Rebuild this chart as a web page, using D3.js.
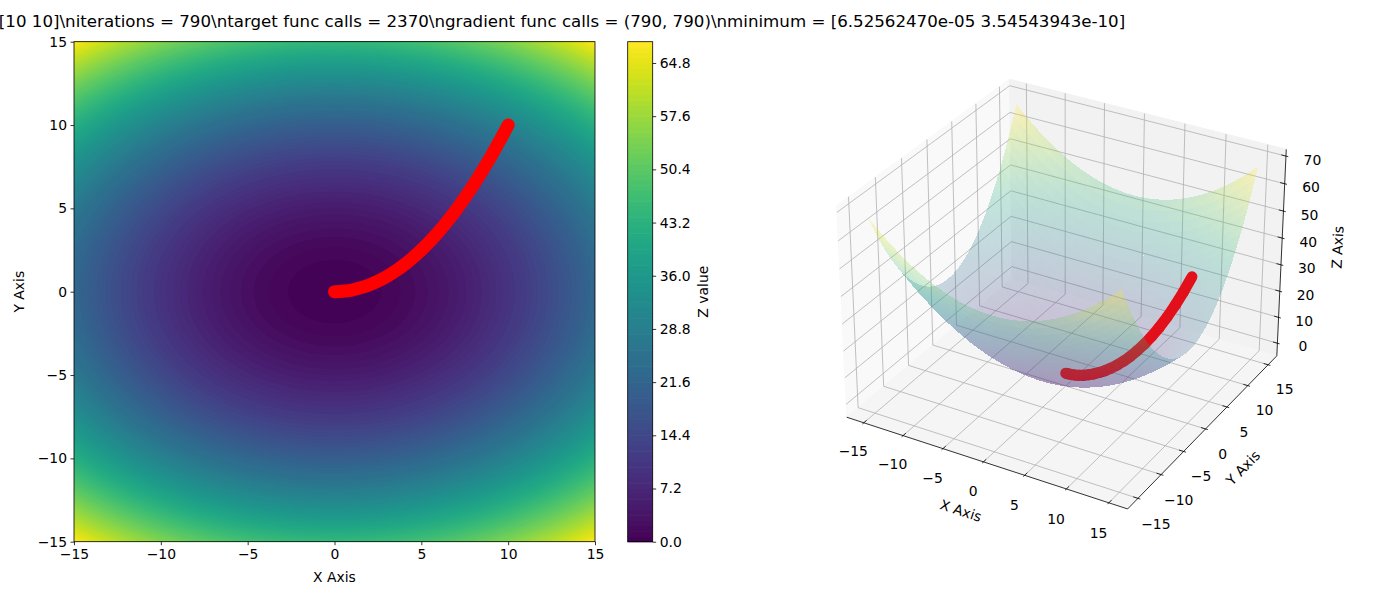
<!DOCTYPE html>
<html><head><meta charset="utf-8">
<script src="https://cdn.jsdelivr.net/npm/d3@7"></script>
<style>
body{margin:0;background:#fff}
svg text{font-family:"DejaVu Sans",sans-serif;font-size:13.9px;fill:#000}
</style>
</head><body>
<svg id="c" width="1400" height="600"></svg>
<script>
// ---------------- data ----------------
const titleText = "[10 10]\\niterations = 790\\ntarget func calls = 2370\\ngradient func calls = (790, 790)\\nminimum = [6.52562470e-05 3.54543943e-10]";
const axisTicks = [-15, -10, -5, 0, 5, 10, 15];
const zTicks = [0, 10, 20, 30, 40, 50, 60, 70];
const cbarTicks = [0, 7.2, 14.4, 21.6, 28.8, 36.0, 43.2, 50.4, 57.6, 64.8];
const levelStep = 0.72, levelCount = 95;           // contour levels 0 .. 67.68
const gridRange = [-15, 15];
const coefX = 0.1, coefY = 0.2;                    // target: z = 0.1 x^2 + 0.2 y^2
// gradient-descent path
const pathX = [10, 9.5, 9, 8.5, 8, 7.5, 7, 6.5, 6, 5.5, 5, 4.5, 4, 3.5, 3, 2.5, 2, 1.5, 1, 0.6, 0.3, 0.1, 0];
const pathY = [10, 9.03, 8.1, 7.23, 6.4, 5.63, 4.9, 4.23, 3.6, 3.03, 2.5, 2.03, 1.6, 1.23, 0.9, 0.63, 0.4, 0.23, 0.1, 0.04, 0.01, 0, 0];
const pathZ = [30, 25.32, 21.22, 17.67, 14.59, 11.95, 9.7, 7.8, 6.19, 4.86, 3.75, 2.85, 2.11, 1.53, 1.06, 0.7, 0.43, 0.24, 0.1, 0.04, 0.01, 0, 0];

const target = (x, y) => coefX * x * x + coefY * y * y;
const levels = d3.range(levelCount).map(i => +(i * levelStep).toFixed(2));
const fmtTick = d => (d < 0 ? "\u2212" : "") + Math.abs(d);

const svg = d3.select("#c");

// ---------------- title ----------------
svg.append("text").attr("x", 562).attr("y", 27).attr("text-anchor", "middle")
  .style("font-size", "16.67px").text(titleText);

// ---------------- left: contour plot ----------------
const L = {x0: 74, x1: 595, y0: 41.7, y1: 541.7};
const xs = d3.scaleLinear().domain(gridRange).range([L.x0, L.x1]);
const ys = d3.scaleLinear().domain(gridRange).range([L.y1, L.y0]);

const n = 241;
const gstep = (gridRange[1] - gridRange[0]) / (n - 1);
const vals = new Float64Array(n * n);
for (let j = 0; j < n; j++) for (let i = 0; i < n; i++)
  vals[j * n + i] = target(gridRange[0] + i * gstep, gridRange[0] + j * gstep);

const lvMin = levels[0], lvMax = levels[levels.length - 1];
const bandColor = k => d3.interpolateViridis(((levels[k] + levels[k + 1]) / 2 - lvMin) / (lvMax - lvMin));
const contours = d3.contours().size([n, n]).thresholds(levels.slice(0, -1))(vals);
const gp = d3.geoPath(d3.geoTransform({
  point(x, y) { this.stream.point(xs(gridRange[0] + (x - 0.5) * gstep), ys(gridRange[0] + (y - 0.5) * gstep)); }
}));
svg.append("clipPath").attr("id", "lc").append("rect")
  .attr("x", L.x0).attr("y", L.y0).attr("width", L.x1 - L.x0).attr("height", L.y1 - L.y0);
const gL = svg.append("g").attr("clip-path", "url(#lc)");
contours.forEach((c, k) => gL.append("path").attr("d", gp(c)).attr("fill", bandColor(k)));

const line2 = d3.line().x((d, i) => xs(pathX[i])).y((d, i) => ys(pathY[i])).curve(d3.curveCatmullRom);
svg.append("path").datum(pathX).attr("d", line2).attr("fill", "none").attr("stroke", "#ff0000")
  .attr("stroke-width", 13).attr("stroke-linecap", "round").attr("stroke-linejoin", "round");

function styleAxis(g) {
  g.attr("font-family", null).attr("font-size", null);
  g.select(".domain").remove();
  g.selectAll(".tick line").attr("stroke", "#000").attr("stroke-width", 0.8);
}
svg.append("g").attr("transform", `translate(0,${L.y1})`)
  .call(d3.axisBottom(xs).tickValues(axisTicks).tickFormat(fmtTick).tickSize(3.5).tickPadding(3.5)).call(styleAxis);
svg.append("g").attr("transform", `translate(${L.x0},0)`)
  .call(d3.axisLeft(ys).tickValues(axisTicks).tickFormat(fmtTick).tickSize(3.5).tickPadding(3.5)).call(styleAxis);
svg.append("rect").attr("x", L.x0).attr("y", L.y0).attr("width", L.x1 - L.x0).attr("height", L.y1 - L.y0)
  .attr("fill", "none").attr("stroke", "#000").attr("stroke-width", 0.8);
svg.append("text").attr("x", (L.x0 + L.x1) / 2).attr("y", 582).attr("text-anchor", "middle").text("X Axis");
svg.append("text").attr("transform", `translate(24,${(L.y0 + L.y1) / 2}) rotate(-90)`).attr("text-anchor", "middle").text("Y Axis");

// ---------------- colorbar ----------------
const C = {x0: 627.7, x1: 652.7, y0: 41.7, y1: 541.7};
const cs = d3.scaleLinear().domain([lvMin, lvMax]).range([C.y1, C.y0]);
d3.range(levels.length - 1).forEach(k => {
  svg.append("rect").attr("x", C.x0).attr("width", C.x1 - C.x0)
    .attr("y", cs(levels[k + 1])).attr("height", cs(levels[k]) - cs(levels[k + 1]) + 0.6)
    .attr("fill", bandColor(k));
});
svg.append("rect").attr("x", C.x0).attr("y", C.y0).attr("width", C.x1 - C.x0).attr("height", C.y1 - C.y0)
  .attr("fill", "none").attr("stroke", "#000").attr("stroke-width", 0.8);
svg.append("g").attr("transform", `translate(${C.x1},0)`)
  .call(d3.axisRight(cs).tickValues(cbarTicks).tickFormat(d3.format(".1f")).tickSize(3.5).tickPadding(3.5)).call(styleAxis);
svg.append("text").attr("transform", `translate(708,${(C.y0 + C.y1) / 2}) rotate(-90)`).attr("text-anchor", "middle").text("Z value");

// ---------------- right: 3D surface ----------------
const S3 = {x0: 809, y0: 40.5, size: 500};
const viewLo = -0.095, viewHi = 0.09;
const PS = S3.size / (viewHi - viewLo);
const boxA = [8 / 7, 8 / 7, 6 / 7];
const elev = 30 * Math.PI / 180, azim = -60 * Math.PI / 180, dist = 10;
const dot = (a, b) => a[0] * b[0] + a[1] * b[1] + a[2] * b[2];
const cross = (a, b) => [a[1] * b[2] - a[2] * b[1], a[2] * b[0] - a[0] * b[2], a[0] * b[1] - a[1] * b[0]];
const unit = a => { const l = Math.hypot(a[0], a[1], a[2]); return a.map(c => c / l); };
const Rc = boxA.map(b => b / 2);
const psv = [Math.cos(elev) * Math.cos(azim), Math.cos(elev) * Math.sin(azim), Math.sin(elev)];
const eye = Rc.map((r, i) => r + dist * psv[i]);
const W = unit(psv), U = unit(cross([0, 0, 1], W)), V = cross(W, U);
function projN(nx, ny, nz) {
  const p = [nx * boxA[0] - eye[0], ny * boxA[1] - eye[1], nz * boxA[2] - eye[2]];
  const vx = dot(U, p), vy = dot(V, p), vz = dot(W, p);
  return [S3.x0 + (vx / -vz - viewLo) * PS, S3.y0 + (viewHi - vy / -vz) * PS, vz];
}

// surface grid (plot_surface, ~50x50 faces)
const M = 50;
const sg = d3.range(M + 1).map(i => gridRange[0] + (gridRange[1] - gridRange[0]) * i / M);
const zMaxS = d3.max(sg, x => d3.max(sg, y => target(x, y)));
const zMinS = d3.min(sg, x => d3.min(sg, y => target(x, y)));
const mx = 0.05 * (gridRange[1] - gridRange[0]), mz = 0.05 * (zMaxS - zMinS);
const nX = d3.scaleLinear().domain([gridRange[0] - mx, gridRange[1] + mx]).range([0, 1]);
const nY = nX.copy();
const nZ = d3.scaleLinear().domain([zMinS - mz, zMaxS + mz]).range([0, 1]);
const proj = (x, y, z) => projN(nX(x), nY(y), nZ(z));
const lo = -1 / 48, hi = 49 / 48, dl = 1 / 12;

const g3 = svg.append("g");
const poly = pts => "M" + pts.map(p => p[0].toFixed(2) + "," + p[1].toFixed(2)).join("L") + "Z";
const pl = pts => "M" + pts.map(p => p[0].toFixed(2) + "," + p[1].toFixed(2)).join("L");

// panes
[[[lo, lo, lo], [lo, hi, lo], [lo, hi, hi], [lo, lo, hi], "#f9f9f9"],
 [[lo, hi, lo], [hi, hi, lo], [hi, hi, hi], [lo, hi, hi], "#f2f2f2"],
 [[lo, lo, lo], [hi, lo, lo], [hi, hi, lo], [lo, hi, lo], "#f5f5f5"]].forEach(q => {
  g3.append("path").attr("d", poly(q.slice(0, 4).map(c => projN(...c)))).attr("fill", q[4]).attr("stroke", q[4]);
});

// grid lines
const gridStyle = s => s.attr("fill", "none").attr("stroke", "#b0b0b0").attr("stroke-width", 0.8);
axisTicks.forEach(t => {
  const a = nX(t);
  g3.append("path").attr("d", pl([projN(a, lo, lo), projN(a, hi, lo), projN(a, hi, hi)])).call(gridStyle);
  const b = nY(t);
  g3.append("path").attr("d", pl([projN(hi, b, lo), projN(lo, b, lo), projN(lo, b, hi)])).call(gridStyle);
});
zTicks.forEach(t => {
  const c = nZ(t);
  g3.append("path").attr("d", pl([projN(lo, lo, c), projN(lo, hi, c), projN(hi, hi, c)])).call(gridStyle);
});

// axis lines
const axStyle = s => s.attr("fill", "none").attr("stroke", "#000").attr("stroke-width", 0.8);
const xA = [projN(lo, lo, lo), projN(hi, lo, lo)];
const yA = [projN(hi, lo, lo), projN(hi, hi, lo)];
const zA = [projN(hi, hi, lo), projN(hi, hi, hi)];
[xA, yA, zA].forEach(a => g3.append("path").attr("d", pl(a)).call(axStyle));

// ticks and tick labels
const fT = 1.0 * dl * 0.767, labShift = 7;
const tickLab = (p, txt) => g3.append("text").attr("x", p[0]).attr("y", p[1] + labShift)
  .attr("dy", "0.35em").attr("text-anchor", "middle").text(txt);
axisTicks.forEach(t => {
  const a = nX(t);
  g3.append("path").attr("d", pl([projN(a, lo - 0.1 * dl, lo), projN(a, lo + 0.2 * dl, lo)])).call(axStyle);
  tickLab(projN(a, lo - fT, lo - fT), fmtTick(t));
  const b = nY(t);
  g3.append("path").attr("d", pl([projN(hi + 0.1 * dl, b, lo), projN(hi - 0.2 * dl, b, lo)])).call(axStyle);
  tickLab(projN(hi + fT, b, lo - fT), fmtTick(t));
});
zTicks.forEach(t => {
  const c = nZ(t);
  g3.append("path").attr("d", pl([projN(hi + 0.1 * dl, hi, c), projN(hi - 0.2 * dl, hi, c)])).call(axStyle);
  tickLab(projN(hi + fT, hi + fT, c), fmtTick(t));
});

// axis labels
const fL = 1.667 * dl;
const ang = a => { let d = Math.atan2(a[1][1] - a[0][1], a[1][0] - a[0][0]) * 180 / Math.PI;
  d = -d; d = ((d + 180) % 180 + 180) % 180; if (d > 90) d -= 180; return -d; };
[[projN(0.5, lo - fL, lo - fL), ang(xA), "X Axis"],
 [projN(hi + fL, 0.5, lo - fL), ang(yA), "Y Axis"],
 [projN(hi + fL, hi + fL, 0.5), ang(zA), "Z Axis"]].forEach(q => {
  g3.append("text").attr("transform", `translate(${q[0][0]},${q[0][1]}) rotate(${q[1]})`)
    .attr("dy", "0.35em").attr("text-anchor", "middle").text(q[2]);
});

// surface faces + path segments, painter-sorted
const items = [];
const faces = [];
for (let i = 0; i < M; i++) for (let j = 0; j < M; j++) {
  const cs4 = [[sg[i], sg[j]], [sg[i + 1], sg[j]], [sg[i + 1], sg[j + 1]], [sg[i], sg[j + 1]]]
    .map(c => [c[0], c[1], target(c[0], c[1])]);
  faces.push({c: cs4, zavg: d3.mean(cs4, c => c[2])});
}
const fz = d3.scaleLinear().domain(d3.extent(faces, f => f.zavg)).range([0, 1]);
faces.forEach(f => {
  const p = f.c.map(c => proj(...c));
  items.push({type: "face", d: poly(p), depth: d3.mean(p, q => q[2]), fill: d3.interpolateViridis(fz(f.zavg))});
});
for (let k = 0; k < pathX.length - 1; k++) {
  const a = proj(pathX[k], pathY[k], pathZ[k]), b = proj(pathX[k + 1], pathY[k + 1], pathZ[k + 1]);
  items.push({type: "seg", d: pl([a, b]), depth: (a[2] + b[2]) / 2 + 0.04});
}
items.sort((a, b) => a.depth - b.depth);
items.forEach(it => {
  if (it.type === "face") g3.append("path").attr("d", it.d).attr("fill", it.fill).attr("fill-opacity", 0.25)
    .attr("shape-rendering", "crispEdges");
  else g3.append("path").attr("d", it.d).attr("fill", "none").attr("stroke", "rgb(226,16,26)")
    .attr("stroke-width", 11).attr("stroke-linecap", "round");
});
</script>
</body></html>
